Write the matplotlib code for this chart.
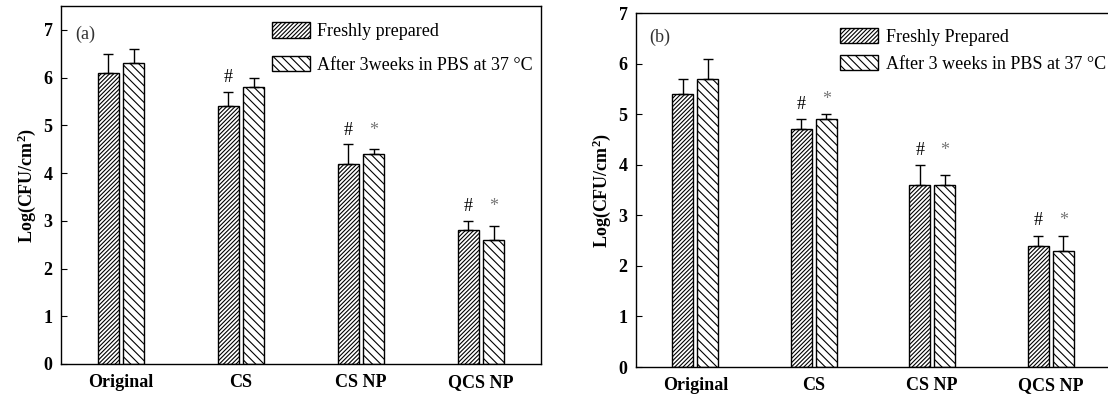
import numpy as np
import matplotlib
matplotlib.use("Agg")
import matplotlib.pyplot as plt
from matplotlib.patches import Patch

plt.rcParams["font.family"] = ["Liberation Serif", "DejaVu Serif"]
plt.rcParams["hatch.linewidth"] = 0.8
plt.rcParams["mathtext.fontset"] = "custom"
plt.rcParams["mathtext.rm"] = "Liberation Serif"
plt.rcParams["mathtext.bf"] = "Liberation Serif:bold"

categories = ["Original", "CS", "CS NP", "QCS NP"]

# panel (a)
fresh_a = [6.1, 5.4, 4.2, 2.8]
fresh_a_err = [0.4, 0.3, 0.4, 0.2]
aged_a = [6.3, 5.8, 4.4, 2.6]
aged_a_err = [0.3, 0.2, 0.1, 0.3]
hash_a = ["", "#", "#", "#"]
star_a = ["", "", "*", "*"]

# panel (b)
fresh_b = [5.4, 4.7, 3.6, 2.4]
fresh_b_err = [0.3, 0.2, 0.4, 0.2]
aged_b = [5.7, 4.9, 3.6, 2.3]
aged_b_err = [0.4, 0.1, 0.2, 0.3]
hash_b = ["", "#", "#", "#"]
star_b = ["", "*", "*", "*"]

HATCH_FRESH = "////////"
HATCH_AGED = "\\\\\\\\"


def draw_panel(ax, fresh, fresh_err, aged, aged_err, hashes, stars,
               tag, tag_xy, labels, ymax, leg_anchor, leg_spacing):
    x = np.arange(len(categories))
    w = 0.18
    off = 0.105
    ax.bar(x - off, fresh, w, facecolor="white", edgecolor="black",
           hatch=HATCH_FRESH, linewidth=1.0)
    ax.bar(x + off, aged, w, facecolor="white", edgecolor="black",
           hatch=HATCH_AGED, linewidth=1.0)
    ax.errorbar(x - off, fresh, yerr=[np.zeros(len(x)), fresh_err], fmt="none",
                ecolor="black", elinewidth=1.0, capsize=3.5, capthick=1.0)
    ax.errorbar(x + off, aged, yerr=[np.zeros(len(x)), aged_err], fmt="none",
                ecolor="black", elinewidth=1.0, capsize=3.5, capthick=1.0)

    # significance marks above the bars
    for i in range(len(x)):
        if hashes[i]:
            ax.text(x[i] - off, fresh[i] + fresh_err[i] + 0.12, hashes[i],
                    ha="center", va="bottom", fontsize=13)
        if stars[i]:
            top = max(aged[i] + aged_err[i], fresh[i] + fresh_err[i])
            ax.text(x[i] + off, top + 0.12, stars[i], ha="center", va="bottom",
                    fontsize=13, color="#777777")

    ax.set_xlim(-0.5, 3.5)
    ax.set_ylim(0, ymax)
    ax.set_yticks(range(8))
    ax.set_xticks(x)
    ax.set_xticklabels(categories, fontweight="bold", fontsize=13)
    ax.tick_params(axis="x", length=0, pad=7)
    ax.tick_params(axis="y", direction="in", length=4, labelsize=13, pad=6)
    for t in ax.get_yticklabels():
        t.set_fontweight("bold")
    ax.set_ylabel(r"$\mathbf{Log(CFU/cm^2)}$", fontsize=13)
    for s in ax.spines.values():
        s.set_linewidth(1.0)

    ax.text(tag_xy[0], tag_xy[1], tag, transform=ax.transAxes, fontsize=13,
            va="center", color="#333333")

    handles = [
        Patch(facecolor="white", edgecolor="black", hatch=HATCH_FRESH, label=labels[0]),
        Patch(facecolor="white", edgecolor="black", hatch=HATCH_AGED, label=labels[1]),
    ]
    ax.legend(handles=handles, loc="upper left", bbox_to_anchor=leg_anchor,
              frameon=False, fontsize=13, handlelength=2.1, handleheight=0.95,
              labelspacing=leg_spacing, handletextpad=0.4, borderaxespad=0)


fig = plt.figure(figsize=(11.08, 3.94), dpi=100)
ax1 = fig.add_axes([61 / 1108, 30 / 394, 480 / 1108, 358 / 394])
ax2 = fig.add_axes([636 / 1108, 27 / 394, 474 / 1108, 354 / 394])

draw_panel(ax1, fresh_a, fresh_a_err, aged_a, aged_a_err, hash_a, star_a,
           "(a)", (0.03, 0.92), ["Freshly prepared", "After 3weeks in PBS at 37 \u00b0C"],
           7.5, (0.425, 0.975), 0.85)
draw_panel(ax2, fresh_b, fresh_b_err, aged_b, aged_b_err, hash_b, star_b,
           "(b)", (0.027, 0.93), ["Freshly Prepared", "After 3 weeks in PBS at 37 \u00b0C"],
           7.0, (0.416, 0.979), 0.5)
ax2.spines["right"].set_visible(False)

fig.savefig("out.png", dpi=100)
